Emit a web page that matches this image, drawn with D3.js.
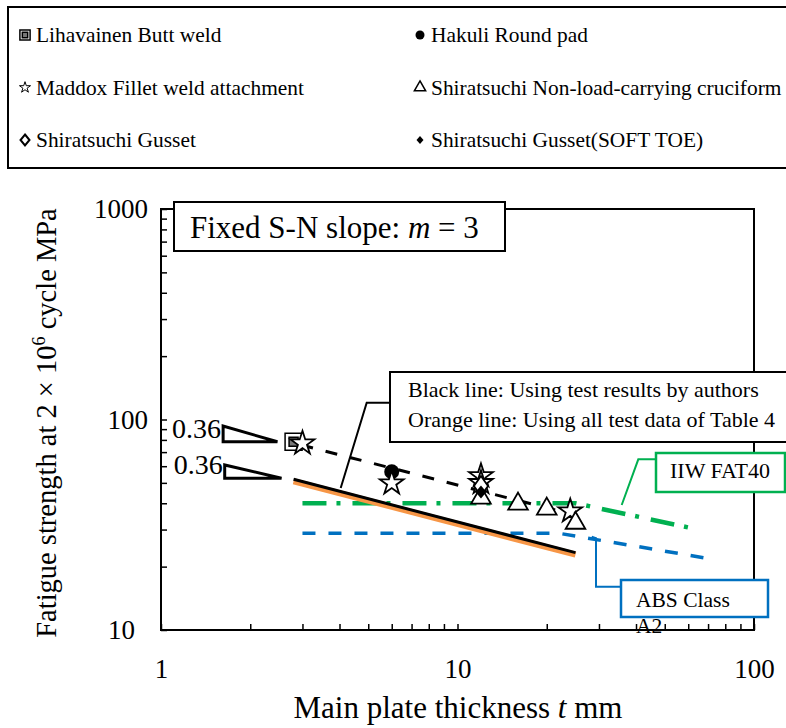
<!DOCTYPE html>
<html>
<head>
<meta charset="utf-8">
<script src="https://cdn.jsdelivr.net/npm/d3@7"></script>
<style>
body { margin: 0; background: #fff; }
svg { display: block; font-family: "Liberation Serif", "Times New Roman", serif; }
</style>
</head>
<body>
<svg id="chart" width="786" height="728"></svg>
<script>
// test data, t = main plate thickness (mm), s = fatigue strength at 2e6 cycles (MPa)
const lihavainenT = [2.8];
const lihavainenS = [78.5];
const hakuliT = [6];
const hakuliS = [56.5];
const maddoxT = [3, 6, 12, 12, 24];
const maddoxS = [77.1, 49.8, 53.9, 50.0, 36.7];
const cruciformT = [12, 16, 20, 25];
const cruciformS = [42.4, 39.7, 37.6, 32.2];
const gussetT = [12];
const gussetS = [48.3];
const softToeT = [12];
const softToeS = [45.2];

// fitted lines and design curves (vertices)
const fitUpperT = [2.8, 25];
const fitUpperS = [77.3, 35.1];
const fitAuthorsT = [2.8, 25];
const fitAuthorsS = [52.0, 23.3];
const fitAllT = [2.8, 25];
const fitAllS = [50.9, 22.8];
const iiwT = [3, 25, 64];
const iiwS = [40, 40, 30.1];
const absT = [3, 22, 71];
const absS = [28.8, 28.8, 21.8];

// slope triangles (0.36)
const slopeUpperT = [1.62, 1.62, 2.47];
const slopeUpperS = [93.1, 78.4, 78.4];
const slopeLowerT = [1.64, 1.64, 2.55];
const slopeLowerS = [60.8, 52.6, 52.6];

// axes
const xTickLabels = [1, 10, 100];
const yTickLabels = [10, 100, 1000];

// legend
const legendLabels = ['Lihavainen Butt weld', 'Hakuli Round pad', 'Maddox Fillet weld attachment',
    'Shiratsuchi Non-load-carrying cruciform', 'Shiratsuchi Gusset', 'Shiratsuchi Gusset(SOFT TOE)'];
const legendKeys = ['square', 'circle', 'star', 'triangle', 'diamond', 'softtoe'];

const GREEN = '#00B050';
const BLUE = '#0070C0';
const ORANGE = '#F79646';

const svg = d3.select('#chart');
const margin = { left: 161, right: 754, top: 209, bottom: 630 };

const x = d3.scaleLog().domain([1, 100]).range([margin.left, margin.right]);
const y = d3.scaleLog().domain([10, 1000]).range([margin.bottom, margin.top]);

const zip = (ts, ss) => ts.map((t, i) => [t, ss[i]]);
const line = d3.line().x(d => x(d[0])).y(d => y(d[1]));

function diamondPath(w, h) {
    return 'M0,' + (-h) + 'L' + w + ',0L0,' + h + 'L' + (-w) + ',0Z';
}

// draw one marker of a given kind into g
function marker(g, kind, big) {
    const k = big ? 1 : 0.6;
    if (kind === 'square') {
        g.append('path').attr('d', d3.symbol(d3.symbolSquare, 289 * k * k)())
            .attr('fill', '#fff').attr('stroke', '#000').attr('stroke-width', 1.5);
        g.append('path').attr('d', d3.symbol(d3.symbolSquare, 81 * k * k)())
            .attr('fill', '#777').attr('stroke', '#000').attr('stroke-width', 1.5);
    } else if (kind === 'circle') {
        g.append('circle').attr('r', big ? 7.5 : 4.5).attr('fill', '#000');
    } else if (kind === 'star') {
        g.append('path').attr('d', d3.symbol(d3.symbolStar, big ? 175 : 38)())
            .attr('fill', '#fff').attr('stroke', '#000').attr('stroke-width', big ? 1.8 : 1);
    } else if (kind === 'triangle') {
        g.append('path').attr('d', d3.symbol(d3.symbolTriangle, big ? 167 : 55)())
            .attr('fill', '#fff').attr('stroke', '#000').attr('stroke-width', big ? 1.8 : 1.5);
    } else if (kind === 'diamond') {
        g.append('path').attr('d', big ? diamondPath(7, 10) : diamondPath(4.5, 5.5))
            .attr('fill', '#fff').attr('stroke', '#000').attr('stroke-width', big ? 1.8 : 2);
    } else if (kind === 'softtoe') {
        g.append('path').attr('d', big ? diamondPath(5.5, 6.5) : diamondPath(3.5, 4))
            .attr('fill', '#000');
    }
}

// legend box
const legend = svg.append('g');
legend.append('rect').attr('x', 8).attr('y', 7).attr('width', 820).attr('height', 161)
    .attr('fill', '#fff').attr('stroke', '#000').attr('stroke-width', 2);
legendLabels.forEach((label, i) => {
    const col = i % 2;
    const row = Math.floor(i / 2);
    const mx = col === 0 ? 25 : 420;
    const by = 42 + row * 52.5;
    marker(legend.append('g').attr('transform', 'translate(' + mx + ',' + (by - 7) + ')'), legendKeys[i], false);
    legend.append('text').attr('x', mx + 11).attr('y', by)
        .attr('font-size', 21.4).text(label);
});

// axes
const xTicks = [];
[1, 10].forEach(d => { for (let i = 1; i < 10; i++) xTicks.push(d * i); });
xTicks.push(100);
const yTicks = [];
[10, 100].forEach(d => { for (let i = 1; i < 10; i++) yTicks.push(d * i); });
yTicks.push(1000);

const xAxis = d3.axisBottom(x).tickValues(xTicks).tickSize(-6).tickSizeOuter(0).tickPadding(29)
    .tickFormat(d => xTickLabels.includes(d) ? d : '');
const yAxis = d3.axisLeft(y).tickValues(yTicks).tickSize(-6).tickSizeOuter(0).tickPadding(13)
    .tickFormat(d => yTickLabels.includes(d) ? d : '');

const gx = svg.append('g').attr('transform', 'translate(0,' + margin.bottom + ')').call(xAxis);
const gy = svg.append('g').attr('transform', 'translate(' + margin.left + ',0)').call(yAxis);
[gx, gy].forEach(g => {
    g.select('.domain').remove();
    g.selectAll('line').attr('stroke', '#000').attr('stroke-width', 1.5);
    g.selectAll('text').attr('font-size', 27).attr('fill', '#000')
        .attr('font-family', '"Liberation Serif", "Times New Roman", serif');
});
// the bottom label sits further from the axis in the original
gy.selectAll('.tick text').filter(d => d === 10).attr('x', -26);

svg.append('rect')
    .attr('x', margin.left).attr('y', margin.top)
    .attr('width', margin.right - margin.left).attr('height', margin.bottom - margin.top)
    .attr('fill', 'none').attr('stroke', '#000').attr('stroke-width', 2);

// axis titles
svg.append('text')
    .attr('transform', 'translate(56,423) rotate(-90)')
    .attr('text-anchor', 'middle').attr('font-size', 28.5)
    .call(t => {
        t.append('tspan').text('Fatigue strength at 2 \u00d7 10');
        t.append('tspan').attr('font-size', 18).attr('dy', -11).text('6');
        t.append('tspan').attr('dy', 11).text(' cycle MPa');
    });
svg.append('text')
    .attr('x', 458).attr('y', 718).attr('text-anchor', 'middle').attr('font-size', 31)
    .call(t => {
        t.append('tspan').text('Main plate thickness ');
        t.append('tspan').attr('font-style', 'italic').text('t');
        t.append('tspan').text(' mm');
    });

// design curves and fitted lines
const plot = svg.append('g');
plot.append('path').datum(zip(iiwT, iiwS)).attr('d', line)
    .attr('fill', 'none').attr('stroke', GREEN).attr('stroke-width', 4.5)
    .attr('stroke-dasharray', '24,10,4,12');
plot.append('path').datum(zip(absT, absS)).attr('d', line)
    .attr('fill', 'none').attr('stroke', BLUE).attr('stroke-width', 3.5)
    .attr('stroke-dasharray', '13,13');
plot.append('path').datum(zip(fitAllT, fitAllS)).attr('d', line)
    .attr('fill', 'none').attr('stroke', ORANGE).attr('stroke-width', 6);
plot.append('path').datum(zip(fitAuthorsT, fitAuthorsS)).attr('d', line)
    .attr('fill', 'none').attr('stroke', '#000').attr('stroke-width', 3);
plot.append('path').datum(zip(fitUpperT, fitUpperS)).attr('d', line)
    .attr('fill', 'none').attr('stroke', '#000').attr('stroke-width', 3)
    .attr('stroke-dasharray', '12,13').attr('stroke-dashoffset', -8);

// slope triangles
[[slopeUpperT, slopeUpperS], [slopeLowerT, slopeLowerS]].forEach(([ts, ss]) => {
    plot.append('path').datum(zip(ts, ss)).attr('d', d => line(d) + 'Z')
        .attr('fill', '#fff').attr('stroke', '#000').attr('stroke-width', 3)
        .attr('stroke-linejoin', 'miter');
    plot.append('text').attr('x', x(ts[0]) - 2).attr('y', y(ss[1]) - 4)
        .attr('text-anchor', 'end').attr('font-size', 28).text('0.36');
});

// data points, series order as in the legend
const series = [
    [lihavainenT, lihavainenS, 'square'],
    [hakuliT, hakuliS, 'circle'],
    [maddoxT, maddoxS, 'star'],
    [cruciformT, cruciformS, 'triangle'],
    [gussetT, gussetS, 'diamond'],
    [softToeT, softToeS, 'softtoe']
];
series.forEach(([ts, ss, kind]) => {
    zip(ts, ss).forEach(d => {
        marker(plot.append('g').attr('transform', 'translate(' + x(d[0]) + ',' + y(d[1]) + ')'), kind, true);
    });
});

// callouts
const notes = svg.append('g');
notes.append('rect').attr('x', 174).attr('y', 202).attr('width', 331).attr('height', 49)
    .attr('fill', '#fff').attr('stroke', '#000').attr('stroke-width', 2);
notes.append('text').attr('x', 190).attr('y', 238).attr('font-size', 31)
    .call(t => {
        t.append('tspan').text('Fixed S-N slope: ');
        t.append('tspan').attr('font-style', 'italic').text('m');
        t.append('tspan').text(' = 3');
    });

notes.append('polyline').attr('points', '390,402.7 366.7,402.7 340.7,488')
    .attr('fill', 'none').attr('stroke', '#000').attr('stroke-width', 2);
notes.append('rect').attr('x', 390).attr('y', 372).attr('width', 420).attr('height', 70)
    .attr('fill', '#fff').attr('stroke', '#000').attr('stroke-width', 2);
notes.append('text').attr('x', 408).attr('y', 397).attr('font-size', 22)
    .text('Black line: Using test results by authors');
notes.append('text').attr('x', 408).attr('y', 427).attr('font-size', 22)
    .text('Orange line: Using all test data of Table 4');

notes.append('polyline').attr('points', '655.7,459.3 638.3,459.3 621.7,505')
    .attr('fill', 'none').attr('stroke', GREEN).attr('stroke-width', 2);
notes.append('rect').attr('x', 656).attr('y', 453).attr('width', 129).attr('height', 39)
    .attr('fill', '#fff').attr('stroke', GREEN).attr('stroke-width', 2.5);
notes.append('text').attr('x', 670).attr('y', 478).attr('font-size', 22).text('IIW FAT40');

notes.append('polyline').attr('points', '620.7,586.7 596,586.7 596,538.3 591.7,536.7')
    .attr('fill', 'none').attr('stroke', BLUE).attr('stroke-width', 2);
notes.append('rect').attr('x', 621).attr('y', 580).attr('width', 147).attr('height', 37)
    .attr('fill', '#fff').attr('stroke', BLUE).attr('stroke-width', 2.5);
notes.append('text').attr('x', 636).attr('y', 607).attr('font-size', 21.5).text('ABS Class');
notes.append('text').attr('x', 636).attr('y', 633).attr('font-size', 21.5).text('A2');
</script>
</body>
</html>
